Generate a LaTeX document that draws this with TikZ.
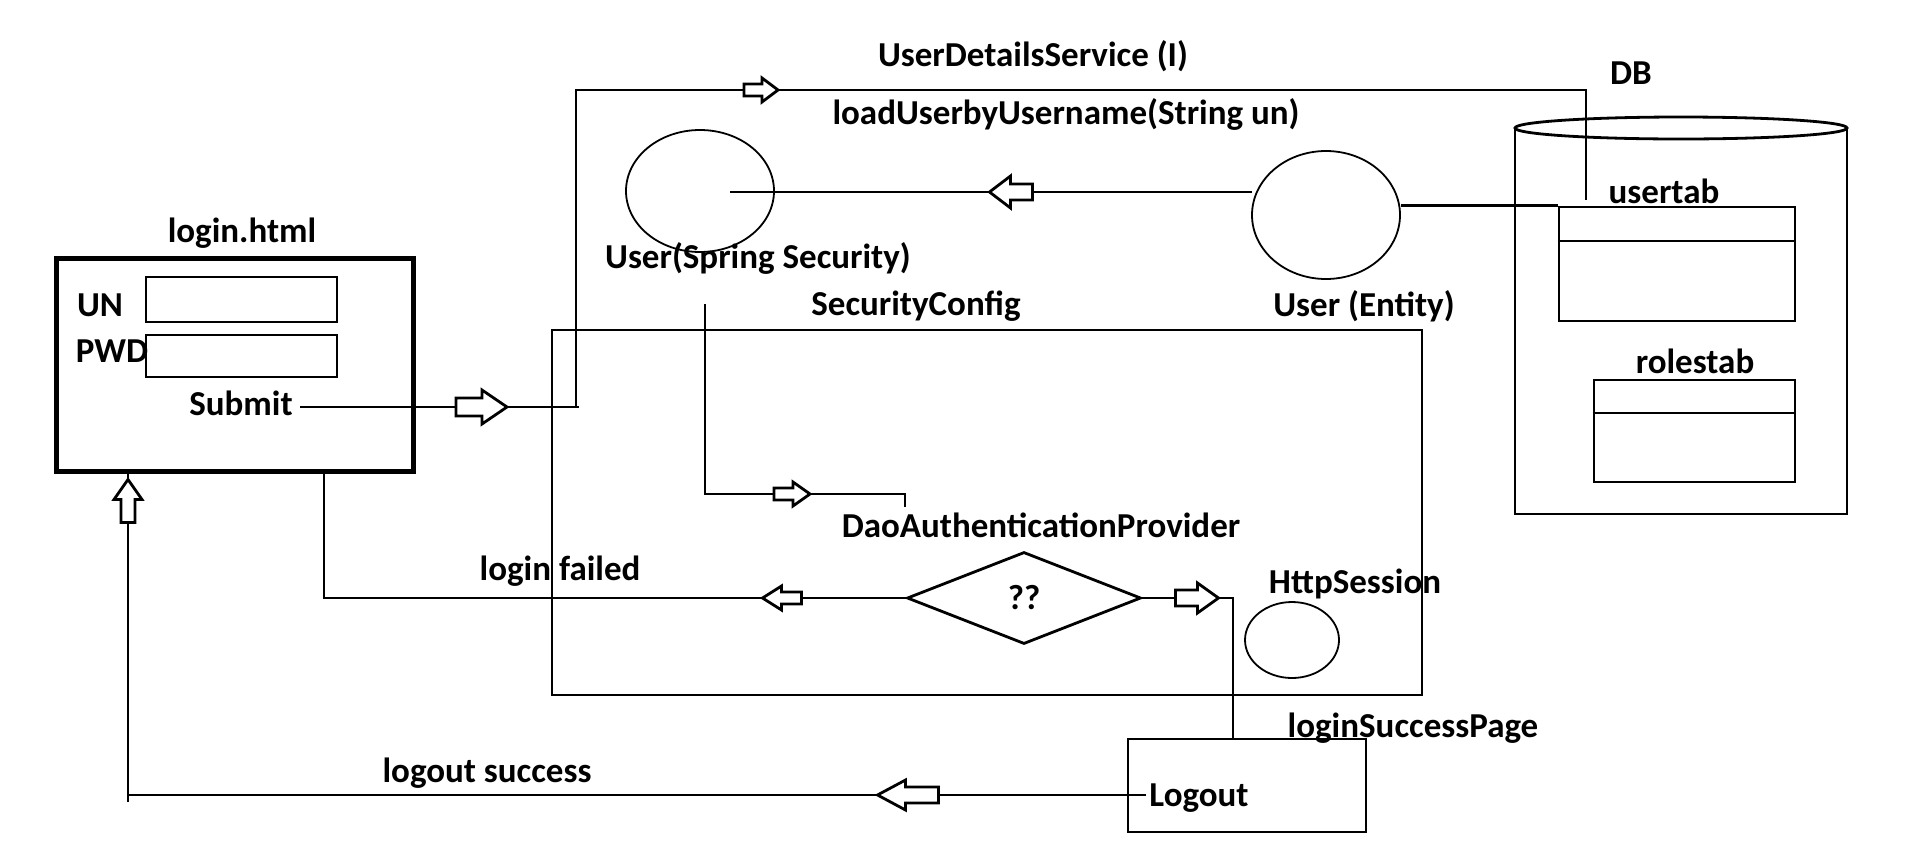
\documentclass[tikz,border=0pt]{standalone}
\usepackage{fontspec}
\setmainfont{Carlito}
\usetikzlibrary{shapes.geometric}
\begin{document}
\begin{tikzpicture}[x=1pt,y=-1pt, line width=2.8pt,
  lbl/.style={font=\bfseries\fontsize{35}{38}\selectfont, inner sep=0pt},
  thinell/.style={ellipse, draw, line width=1.8pt, inner sep=0pt},
  box/.style={draw, rectangle, inner sep=0pt},
  pics/barr/.style n args={4}{code={
    \draw[fill=white, line width=2.8pt, line join=miter]
      (-#1/2,-#3) -- (#1/2-#2,-#3) -- (#1/2-#2,-#4) -- (#1/2,0)
      -- (#1/2-#2,#4) -- (#1/2-#2,#3) -- (-#1/2,#3) -- cycle;}}]
\useasboundingbox (0,0) rectangle (1905,860);

% login form
\node[box, line width=5pt, minimum width=357pt, minimum height=213pt] (login) at (234.5,364.5) {};
\node[box, minimum width=191pt, minimum height=45pt] (unf) at (241.5,299.5) {};
\node[box, minimum width=191pt, minimum height=42pt] (pwdf) at (241.5,356) {};
\node[lbl] (loginhtml) at (242,233) {login.html};
\node[lbl] (un) at (100,305) {UN};
\node[lbl] (pwd) at (112,351) {PWD};
\node[lbl] (submit) at (241,403) {Submit};

% SecurityConfig box
\node[box, minimum width=870pt, minimum height=365pt] (sc) at (987,512.5) {};
\node[lbl] (sclbl) at (916,306) {SecurityConfig};

% ellipses
\node[thinell, minimum width=148pt, minimum height=122pt] (uss) at (700,191) {};
\node[lbl] (usslbl) at (758,258) {User(Spring Security)};
\node[thinell, minimum width=148pt, minimum height=128pt] (ent) at (1326,215) {};
\node[lbl] (entlbl) at (1364,306) {User (Entity)};
\node[thinell, minimum width=94pt, minimum height=76pt] (hs) at (1292,640) {};
\node[lbl] (hslbl) at (1355,584) {HttpSession};

% texts on top
\node[lbl] (uds) at (1033,56) {UserDetailsService (I)};
\node[lbl] (load) at (1066,114) {loadUserbyUsername(String un)};
\node[lbl] (dao) at (1041,525) {DaoAuthenticationProvider};
\node[lbl] (lf) at (560,571) {login failed};
\node[lbl] (ls) at (487,773) {logout success};

% DB cylinder
\draw (1515,128) -- (1515,514) -- (1847,514) -- (1847,128);
\draw (1681,128) ellipse [x radius=166, y radius=11];
\node[lbl] (db) at (1631,73) {DB};
\node[box, minimum width=236pt, minimum height=114pt] (ut) at (1677,264) {};
\draw (ut.west |- 0,241) -- (ut.east |- 0,241);
\node[lbl] (utlbl) at (1664,191) {usertab};
\node[box, minimum width=201pt, minimum height=102pt] (rt) at (1694.5,431) {};
\draw (rt.west |- 0,413) -- (rt.east |- 0,413);
\node[lbl] (rtlbl) at (1695,361) {rolestab};

% decision diamond
\node[diamond, draw, line width=2.8pt, minimum width=234pt, minimum height=92pt, inner sep=0pt, font=\bfseries\fontsize{35}{38}\selectfont] (dia) at (1024,598) {??};

% logout page
\node[box, minimum width=238pt, minimum height=93pt] (lo) at (1247,785.5) {};
\node[lbl] (lolbl) at (1199,798) {Logout};
\node[lbl] (lsp) at (1413,728) {loginSuccessPage};

% coordinates
\coordinate (s0) at (300,407);
\coordinate (s1) at (579,407);
\coordinate (v0) at (576,407);
\coordinate (v1) at (576,90);
\coordinate (v2) at (1586,90);
\coordinate (v3) at (1586,200);
\coordinate (u0) at (730,192);
\coordinate (u1) at (1252,192);
\coordinate (d0) at (705,304);
\coordinate (d1) at (705,494);
\coordinate (d2) at (905,494);
\coordinate (d3) at (905,507);
\coordinate (f1) at (324,598);
\coordinate (f2) at (324,471);
\coordinate (r1) at (1233,598);
\coordinate (r2) at (1233,739);
\coordinate (o0) at (1146,795);
\coordinate (o1) at (128,795);
\coordinate (o2) at (128,471);

% connectors
\draw (s0) -- (s1);
\draw (v0) -- (v1) -- (v2) -- (v3);
\draw (ent.east |- ut.north west) -- (ut.north west);
\draw (u1) -- (u0);
\draw (d0) -- (d1) -- (d2) -- (d3);
\draw (dia.west) -- (f1) -- (f2);
\draw (dia.east) -- (r1) -- (r2);
\draw (o0) -- (o1) -- (o2);
\draw (128,802) -- (o1);

% block arrows: length, head length, shaft half width, head half width
\pic (a1) at (481.5,407) {barr={51}{25}{9}{17}};
\pic (a2) at (761,90) {barr={34}{16}{6}{12}};
\pic[rotate=180] (a3) at (1011,192) {barr={43}{21}{8}{16}};
\pic (a4) at (792,494) {barr={36}{17}{6}{12}};
\pic[rotate=180] (a5) at (782,598) {barr={39}{19}{6}{12}};
\pic (a6) at (1197,598) {barr={43}{21}{8}{15}};
\pic[rotate=180] (a7) at (908,795) {barr={61}{28}{8}{15}};
\pic[rotate=90] (a8) at (128,501) {barr={43}{20}{7}{14}};
\end{tikzpicture}
\end{document}
